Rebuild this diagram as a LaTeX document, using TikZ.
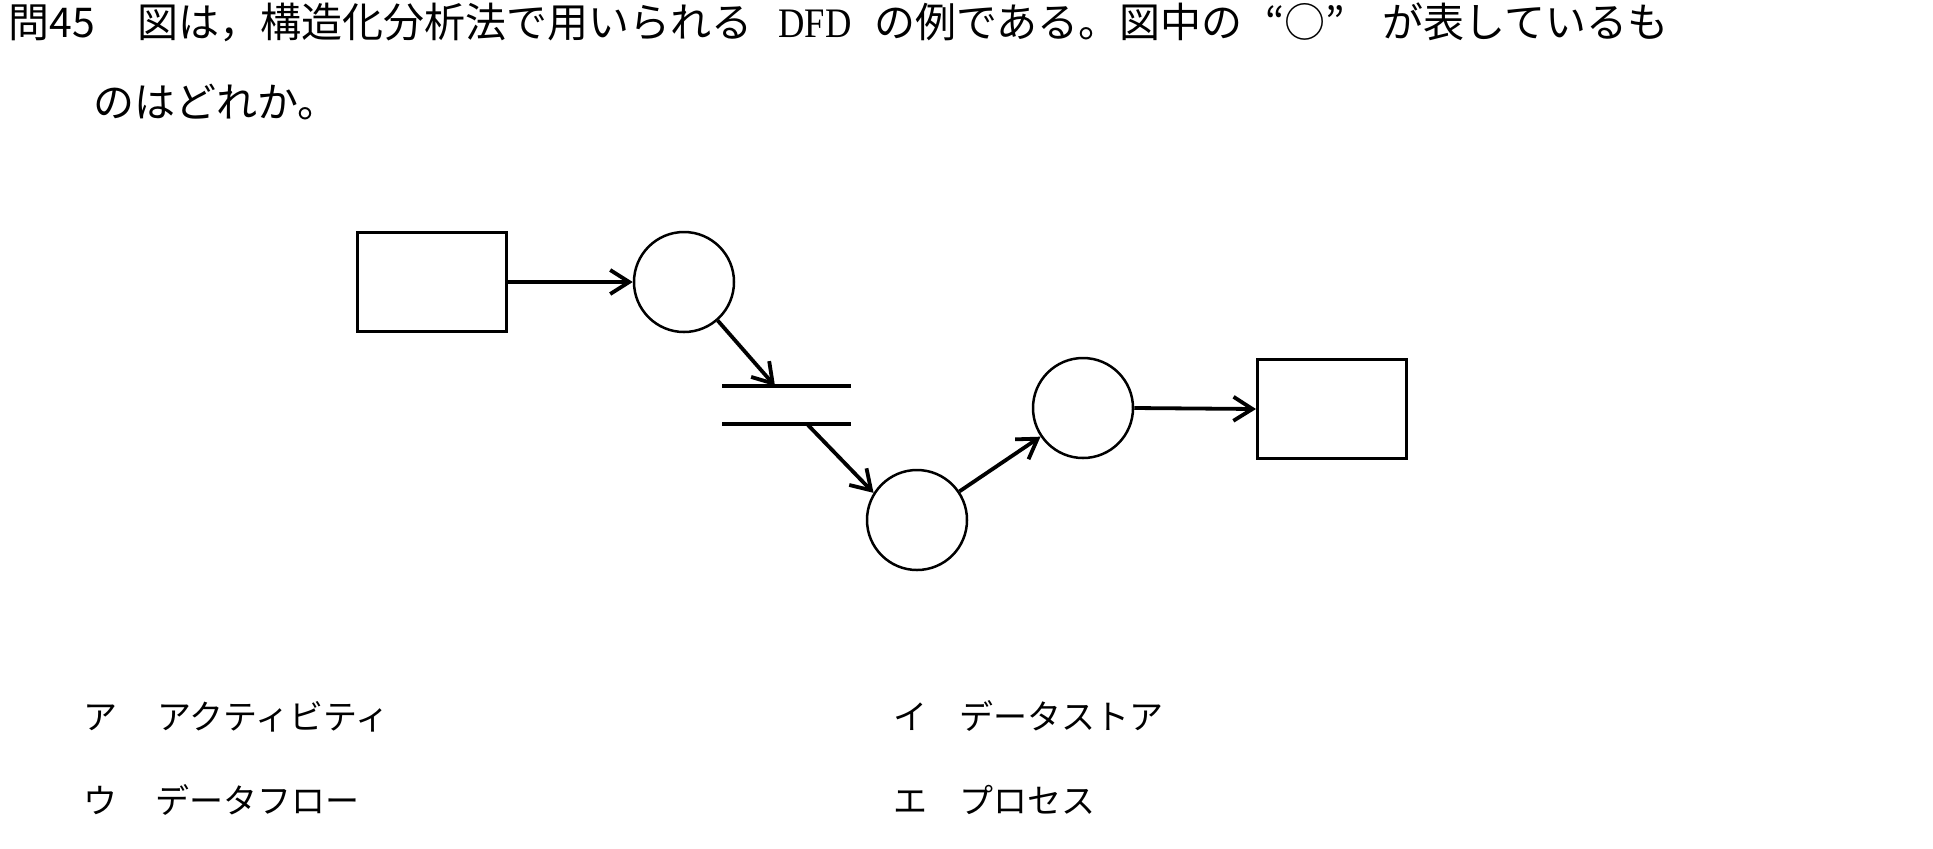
\documentclass[tikz,border=0pt]{standalone}
\usepackage{fontspec}
\newfontfamily\jp{Noto Sans CJK JP}
\newfontfamily\tm[FakeStretch=0.87]{Liberation Serif}
\usetikzlibrary{arrows.meta}
\begin{document}
\begin{tikzpicture}[x=0.5pt,y=-0.5pt,
  ttl/.style={anchor=base west,inner sep=0pt,font=\jp\fontsize{20.5pt}{24pt}\selectfont},
  ttlr/.style={anchor=base west,inner sep=0pt,font=\tm\fontsize{21pt}{24pt}\selectfont},
  ans/.style={anchor=base west,inner sep=0pt,font=\jp\fontsize{17pt}{20pt}\selectfont},
  ent/.style={draw,line width=1.5pt,minimum width=74.5pt,minimum height=49.5pt,inner sep=0pt},
  proc/.style={draw,circle,line width=1.25pt,minimum size=50pt,inner sep=0pt},
  flow/.style={line width=1.9pt,-{Straight Barb[length=9.5pt,width=12pt,line width=1.9pt]}},
  storeline/.style={line width=1.7pt}]
\useasboundingbox[fill=white] (0,0) rectangle (1933,848);

% question text
\node[ttl] (q0) at (8,37) {問45};
\node[ttl] (q1) at (137,37) {図は，構造化分析法で用いられる};
\node[ttlr] (q2) at (778,37) {DFD};
\node[ttl] (q3) at (874,37) {の例である。図中の};
\node[ttl,anchor=base] (q4) at (1305,37) {“○”};
\node[ttl] (q5) at (1382,37) {が表しているも};
\node[ttl] (q6) at (93,117) {のはどれか。};

% diagram
\node[ent] (r1) at (431.5,282) {};
\node[proc] (c1) at (684,282) {};
\coordinate (s1a) at (722,386);
\coordinate (s1b) at (851,386);
\coordinate (s2a) at (722,424);
\coordinate (s2b) at (851,424);
\coordinate (sin) at (775,386);
\coordinate (sout) at (807,424);
\node[proc] (c3) at (917,520) {};
\node[proc] (c2) at (1083,408) {};
\node[ent] (r2) at (1332,409) {};

\draw[storeline] (s1a) -- (s1b);
\draw[storeline] (s2a) -- (s2b);

\draw[flow] (r1.east) -- (c1.west);
\draw[flow] (c1) -- (sin);
\draw[flow] (sout) -- (c3.148);
\draw[flow] (c3) -- (c2);
\draw[flow] (c2.east) -- (r2.west);

% choices
\node[ans] (a1) at (83,729) {ア};
\node[ans] (a1t) at (157,729) {アクティビティ};
\node[ans] (a2) at (893,729) {イ};
\node[ans] (a2t) at (959,729) {データストア};
\node[ans] (a3) at (83,813) {ウ};
\node[ans] (a3t) at (155,813) {データフロー};
\node[ans] (a4) at (893,813) {エ};
\node[ans] (a4t) at (959,813) {プロセス};
\end{tikzpicture}
\end{document}
